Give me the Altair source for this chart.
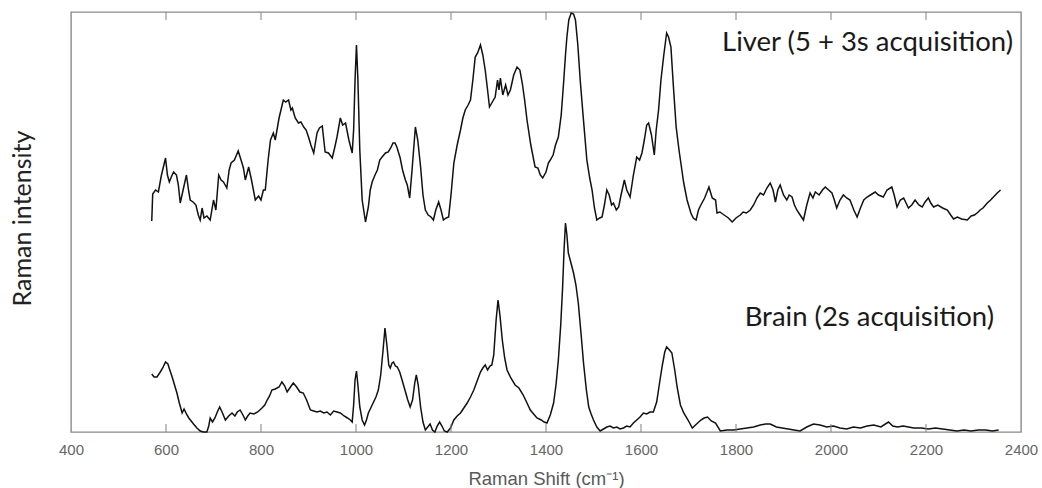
import altair as alt
import pandas as pd

# ---- data (wavenumber in cm^-1, intensity in arbitrary units) ----
liver_shift = [570, 572, 578, 584, 590, 599, 603, 607, 612, 616, 622, 626, 630, 636, 643, 648, 651, 657, 663, 668,
               672, 676, 680, 686, 693, 700, 705, 711, 716, 721, 728, 733, 737, 744, 752, 758, 763, 767, 774, 780,
               788, 795, 800, 805, 809, 815, 820, 826, 830, 838, 847, 852, 858, 863, 866, 872, 879, 884, 890, 895,
               900, 905, 911, 918, 923, 929, 935, 942, 950, 955, 960, 967, 972, 978, 985, 992, 995, 998, 1001, 1004,
               1008, 1013, 1020, 1026, 1030, 1034, 1040, 1045, 1050, 1055, 1062, 1068, 1073, 1078, 1082, 1086, 1093, 1098, 1104, 1108,
               1113, 1118, 1125, 1130, 1136, 1141, 1146, 1152, 1158, 1163, 1168, 1174, 1179, 1184, 1190, 1195, 1200, 1206, 1213, 1220,
               1225, 1230, 1236, 1241, 1246, 1251, 1256, 1262, 1267, 1272, 1277, 1281, 1287, 1293, 1298, 1301, 1304, 1309, 1315, 1320,
               1325, 1332, 1339, 1345, 1350, 1355, 1360, 1368, 1377, 1383, 1388, 1393, 1400, 1405, 1409, 1415, 1420, 1426, 1432, 1437,
               1441, 1444, 1448, 1453, 1458, 1462, 1467, 1472, 1478, 1486, 1492, 1497, 1502, 1507, 1513, 1518, 1523, 1528, 1533, 1538,
               1542, 1548, 1553, 1558, 1565, 1570, 1577, 1584, 1591, 1597, 1602, 1607, 1612, 1616, 1622, 1628, 1632, 1637, 1642, 1648,
               1654, 1658, 1663, 1668, 1674, 1680, 1686, 1690, 1697, 1705, 1710, 1716, 1721, 1726, 1734, 1743, 1750, 1757, 1760, 1766,
               1775, 1784, 1792, 1800, 1809, 1815, 1822, 1830, 1837, 1844, 1851, 1858, 1865, 1872, 1878, 1883, 1888, 1893, 1900, 1907,
               1912, 1918, 1923, 1928, 1935, 1942, 1949, 1956, 1962, 1967, 1975, 1982, 1988, 1995, 2002, 2007, 2012, 2019, 2026, 2033,
               2040, 2048, 2055, 2062, 2069, 2076, 2083, 2093, 2100, 2110, 2118, 2128, 2133, 2139, 2146, 2153, 2158, 2163, 2170, 2177,
               2185, 2192, 2198, 2205, 2210, 2216, 2225, 2235, 2245, 2252, 2258, 2266, 2275, 2287, 2295, 2302, 2310, 2314, 2320, 2329,
               2336, 2342, 2350, 2357]
liver_intensity = [211, 238, 242, 240, 256, 274, 257, 250, 256, 260, 257, 247, 229, 242, 257, 240, 232, 230, 227, 217,
                   212, 224, 214, 216, 212, 232, 222, 257, 252, 250, 244, 262, 269, 272, 281, 272, 264, 252, 265, 252,
                   232, 236, 232, 242, 242, 272, 292, 299, 292, 314, 332, 330, 332, 322, 324, 314, 309, 310, 305, 302,
                   295, 287, 279, 299, 304, 306, 280, 279, 274, 284, 295, 314, 307, 309, 292, 279, 302, 352, 387, 352,
                   282, 232, 210, 225, 242, 250, 257, 262, 272, 275, 279, 280, 284, 289, 289, 285, 274, 262, 252, 247,
                   234, 262, 305, 292, 265, 237, 222, 217, 215, 212, 222, 230, 222, 212, 214, 215, 237, 269, 287, 302,
                   314, 322, 327, 332, 352, 375, 379, 387, 377, 362, 342, 325, 330, 335, 352, 342, 354, 337, 347, 337,
                   342, 357, 365, 362, 349, 332, 312, 287, 265, 264, 257, 254, 260, 269, 272, 277, 287, 295, 317, 349,
                   377, 395, 412, 419, 418, 412, 387, 352, 317, 272, 254, 242, 224, 212, 214, 215, 227, 242, 237, 227,
                   229, 222, 225, 237, 252, 242, 235, 257, 275, 272, 279, 292, 307, 309, 297, 277, 302, 322, 352, 377,
                   399, 395, 385, 347, 305, 282, 262, 249, 232, 219, 214, 212, 222, 227, 234, 245, 234, 232, 219, 220,
                   217, 214, 210, 214, 217, 220, 219, 222, 227, 234, 239, 237, 244, 249, 242, 230, 242, 247, 237, 232,
                   237, 235, 227, 222, 217, 212, 227, 239, 234, 240, 237, 242, 245, 242, 239, 232, 224, 232, 237, 234,
                   232, 222, 215, 224, 232, 235, 237, 240, 237, 235, 242, 245, 237, 225, 232, 234, 229, 224, 227, 232,
                   227, 225, 230, 234, 229, 225, 227, 224, 222, 217, 213, 215, 213, 212, 216, 217, 220, 222, 224, 229,
                   232, 235, 239, 242]

brain_shift = [570, 575, 581, 588, 593, 599, 604, 608, 613, 618, 623, 628, 634, 638, 643, 648, 653, 658, 665, 672,
               679, 686, 690, 693, 698, 703, 708, 713, 718, 725, 732, 739, 745, 750, 756, 762, 767, 772, 777, 785,
               793, 802, 808, 813, 818, 823, 830, 838, 844, 850, 855, 862, 868, 875, 882, 889, 896, 904, 911, 918,
               925, 932, 939, 946, 953, 960, 967, 975, 982, 988, 992, 995, 998, 1001, 1004, 1008, 1013, 1018, 1022, 1026,
               1031, 1036, 1042, 1047, 1052, 1057, 1061, 1065, 1069, 1072, 1076, 1079, 1083, 1087, 1092, 1097, 1103, 1109, 1114, 1119,
               1124, 1127, 1131, 1136, 1141, 1146, 1151, 1156, 1161, 1166, 1171, 1176, 1181, 1186, 1192, 1199, 1206, 1213, 1220, 1227,
               1234, 1241, 1248, 1255, 1262, 1267, 1272, 1277, 1282, 1286, 1290, 1295, 1299, 1303, 1308, 1313, 1318, 1326, 1335, 1343,
               1352, 1360, 1367, 1374, 1381, 1390, 1396, 1402, 1409, 1416, 1421, 1426, 1431, 1435, 1438, 1441, 1444, 1447, 1452, 1458,
               1463, 1468, 1474, 1479, 1485, 1490, 1495, 1500, 1507, 1514, 1521, 1528, 1535, 1542, 1549, 1556, 1563, 1570, 1577, 1584,
               1591, 1598, 1605, 1612, 1619, 1626, 1633, 1640, 1645, 1650, 1654, 1660, 1665, 1671, 1676, 1683, 1690, 1699, 1708, 1717,
               1726, 1733, 1740, 1748, 1757, 1767, 1781, 1795, 1809, 1823, 1837, 1851, 1862, 1872, 1885, 1897, 1910, 1922, 1935, 1949,
               1963, 1977, 1991, 2005, 2019, 2033, 2047, 2062, 2076, 2090, 2105, 2121, 2130, 2140, 2152, 2163, 2174, 2190, 2205, 2220,
               2235, 2250, 2265, 2280, 2295, 2310, 2325, 2340, 2353]
brain_intensity = [58, 55, 55, 60, 64, 70, 68, 62, 55, 47, 39, 29, 19, 23, 18, 14, 11, 8, 4, 1,
                   0, 0, 6, 14, 10, 14, 20, 25, 20, 12, 16, 19, 16, 20, 22, 17, 12, 16, 19, 18,
                   20, 24, 27, 32, 36, 42, 43, 45, 50, 46, 40, 45, 49, 45, 40, 39, 32, 22, 21, 20,
                   21, 19, 20, 17, 21, 20, 19, 16, 14, 12, 10, 27, 52, 61, 47, 25, 12, 7, 12, 19,
                   24, 29, 35, 42, 57, 82, 104, 87, 67, 64, 69, 70, 66, 65, 60, 52, 42, 32, 25, 32,
                   50, 57, 47, 25, 10, 2, 5, 8, 2, 0, 6, 10, 6, 1, 0, 4, 12, 16, 19, 24,
                   29, 35, 42, 51, 60, 64, 67, 62, 66, 67, 77, 112, 132, 117, 92, 74, 62, 54, 47, 44,
                   37, 29, 22, 18, 14, 12, 10, 9, 17, 29, 47, 72, 107, 145, 182, 209, 197, 179, 170, 159,
                   147, 129, 97, 69, 42, 25, 18, 12, 5, 1, 3, 5, 6, 4, 5, 3, 4, 6, 5, 9,
                   12, 15, 19, 18, 20, 20, 30, 52, 67, 80, 85, 82, 79, 62, 45, 27, 19, 12, 4, 8,
                   12, 14, 15, 11, 9, 1, 2, 2, 3, 4, 5, 7, 8, 8, 5, 4, 3, 2, 1, 5,
                   8, 7, 5, 6, 4, 3, 5, 4, 6, 7, 5, 10, 6, 5, 6, 5, 4, 4, 3, 4,
                   3, 2, 1, 2, 1, 2, 2, 1, 2]

tick_values = [400, 600, 800, 1000, 1200, 1400, 1600, 1800, 2000, 2200, 2400]
inner_ticks = [600, 800, 1000, 1200, 1400, 1600, 1800, 2000, 2200]

liver_label = "Liver (5 + 3s acquisition)"
brain_label = "Brain (2s acquisition)"

# ---- tables ----
df = pd.concat([
    pd.DataFrame({"shift": liver_shift, "intensity": liver_intensity, "sample": "Liver"}),
    pd.DataFrame({"shift": brain_shift, "intensity": brain_intensity, "sample": "Brain"}),
], ignore_index=True)
ticks_df = pd.DataFrame({"tick": inner_ticks})

x_scale = alt.Scale(domain=[400, 2400], nice=False, zero=False)
y_scale = alt.Scale(domain=[0, 420], nice=False, zero=False)

lines = alt.Chart(df).mark_line(color="#111111", strokeWidth=1.5).encode(
    x=alt.X("shift:Q", scale=x_scale,
            axis=alt.Axis(values=tick_values, format="d", title="Raman Shift (cm⁻¹)",
                          ticks=False, domain=False, grid=False,
                          labelFlush=False, labelOverlap=False, labelBound=False,
                          labelFont="Liberation Sans", labelFontSize=15, labelColor="#666666",
                          labelPadding=10,
                          titleFont="Liberation Sans", titleFontSize=18.5, titleFontWeight="normal",
                          titleColor="#5a5a5a", titleX=475, titleY=52, titleBaseline="alphabetic",
                          titleAlign="center")),
    y=alt.Y("intensity:Q", scale=y_scale,
            axis=alt.Axis(title="Raman intensity", labels=False, ticks=False, domain=False, grid=False,
                          titleFont="Lato", titleFontSize=25, titleFontWeight="normal", titleColor="#222222",
                          titleAngle=270, titleX=-49, titleY=206, titleAlign="center",
                          titleBaseline="middle")),
    detail="sample:N",
)

bottom_ticks = alt.Chart(ticks_df).mark_rule(color="#808080", strokeWidth=1).encode(
    x=alt.X("tick:Q", scale=x_scale), y=alt.value(420), y2=alt.value(412))
top_ticks = alt.Chart(ticks_df).mark_rule(color="#808080", strokeWidth=1).encode(
    x=alt.X("tick:Q", scale=x_scale), y=alt.value(0), y2=alt.value(8))

liver_text = alt.Chart(pd.DataFrame({"label": [liver_label]})).mark_text(
    font="Lato", fontSize=27.5, color="#1a1a1a", align="right", baseline="middle").encode(
    text="label:N", x=alt.value(942), y=alt.value(31))
brain_text = alt.Chart(pd.DataFrame({"label": [brain_label]})).mark_text(
    font="Lato", fontSize=27.5, color="#1a1a1a", align="right", baseline="middle").encode(
    text="label:N", x=alt.value(923), y=alt.value(306))

chart = alt.layer(lines, bottom_ticks, top_ticks, liver_text, brain_text).properties(
    width=950, height=420,
    autosize=alt.AutoSizeParams(type="none"),
    padding={"left": 71, "top": 12, "right": 21, "bottom": 56},
    background="white",
).configure_view(stroke="#8a8a8a", strokeWidth=1.4)

chart.save("out.html", embed_options={"renderer": "svg", "actions": False})
